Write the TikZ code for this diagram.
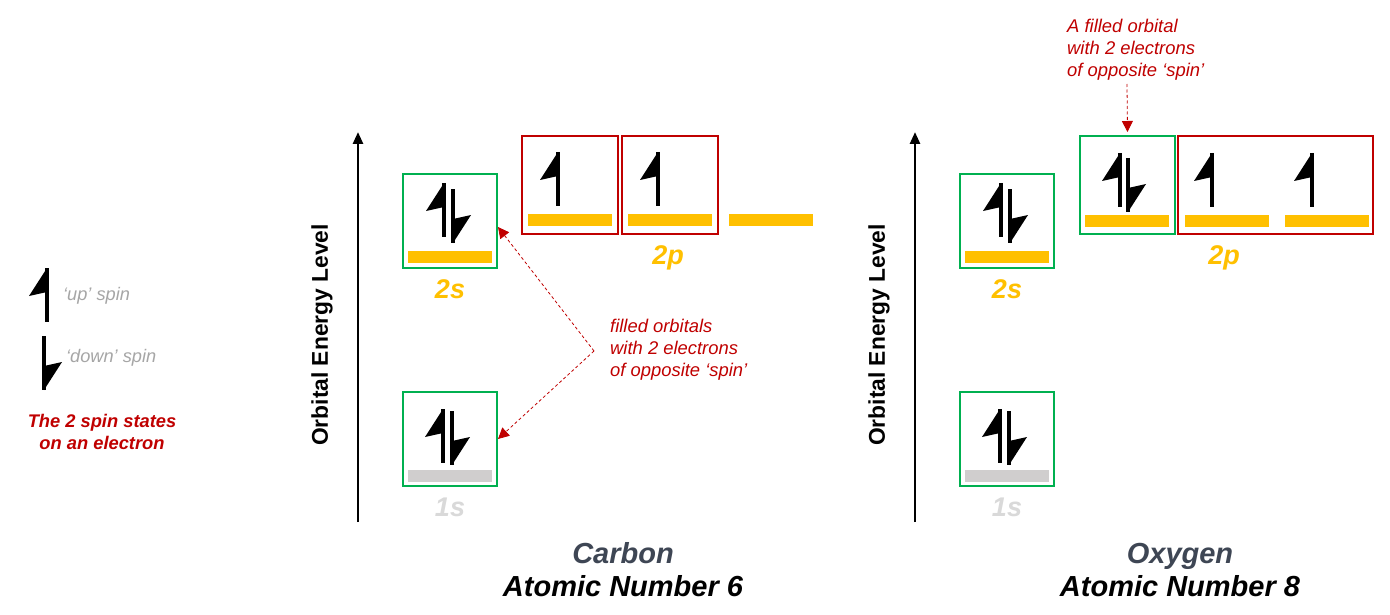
\documentclass[tikz,border=0pt]{standalone}
\usepackage{fontspec}
\setmainfont{Liberation Sans}
\usetikzlibrary{arrows.meta}
\definecolor{oyel}{HTML}{FFC000}
\definecolor{ogrn}{HTML}{00B050}
\definecolor{ored}{HTML}{C00000}
\definecolor{obar}{HTML}{D0CECE}
\definecolor{olab}{HTML}{D9D9D9}
\definecolor{ogtx}{HTML}{A6A6A6}
\definecolor{oslate}{HTML}{3E4654}
\tikzset{
  gbox/.style={draw=ogrn,line width=2pt,minimum width=94pt,minimum height=94pt,inner sep=0pt},
  rbox/.style={draw=ored,line width=2pt,minimum height=98pt,inner sep=0pt},
  ybar/.style={fill=oyel,minimum width=84pt,minimum height=12pt,inner sep=0pt},
  sbar/.style={fill=obar,minimum width=84pt,minimum height=12pt,inner sep=0pt},
  lvl/.style={font=\fontsize{27}{30}\selectfont\bfseries\itshape,text=oyel,anchor=base,inner sep=0pt},
  lvlg/.style={lvl,text=olab},
  axis/.style={line width=2.6pt,-{Triangle[length=12pt,width=10pt]}},
  axlbl/.style={font=\fontsize{22.8}{26}\selectfont\bfseries,rotate=90,inner sep=0pt},
  note/.style={font=\fontsize{18.4}{22}\selectfont\itshape,text=ored,align=left,inner sep=0pt,anchor=west},
  ptr/.style={draw=ored,dash pattern=on 3pt off 2.5pt,line width=0.8pt,-{Triangle[length=11pt,width=11pt]}},
  atom/.style={font=\fontsize{29}{32}\selectfont\bfseries\itshape,anchor=base,inner sep=0pt},
  upspin/.pic={\fill (0,0) -- (-18,28) -- (0,24) -- cycle; \draw[line width=3.2pt] (0,0) -- (0,54);},
  dnspin/.pic={\fill (0,54) -- (18,26) -- (0,30) -- cycle; \draw[line width=3.2pt] (0,0) -- (0,54);}
}
\begin{document}
\begin{tikzpicture}[x=1pt,y=-1pt]
\useasboundingbox[fill=white] (0,0) rectangle (1390,615);

% ---------- legend ----------
\pic at (47,268) {upspin};
\pic at (44,336) {dnspin};
\node[anchor=west,inner sep=0pt,font=\fontsize{18.2}{22}\selectfont\itshape,text=ogtx] (lup) at (63,296) {‘up’ spin};
\node[anchor=west,inner sep=0pt,font=\fontsize{18.2}{22}\selectfont\itshape,text=ogtx] (ldn) at (66,358) {‘down’ spin};
\node[inner sep=0pt,align=center,font=\fontsize{18.3}{22}\selectfont\bfseries\itshape,text=ored] (lspin) at (102,432) {The 2 spin states\\on an electron};

% ---------- Carbon ----------
\coordinate (cbot) at (358,522);
\coordinate (ctop) at (358,132);
\draw[axis] (cbot) -- (ctop);
\node[axlbl] (cax) at (322,335) {Orbital Energy Level};

\node[gbox] (c2s) at (450,221) {};
\node[ybar] (c2sbar) at (450,257) {};
\pic at (444,183) {upspin};
\pic at (453,189) {dnspin};
\node[lvl] (c2slbl) at (450,298) {2s};

\node[gbox] (c1s) at (450,439) {};
\node[sbar] (c1sbar) at (450,476) {};
\pic at (443,409) {upspin};
\pic at (452,411) {dnspin};
\node[lvlg] (c1slbl) at (450,516) {1s};

\node[rbox,minimum width=96pt] (c2p1) at (570,185) {};
\node[rbox,minimum width=96pt] (c2p2) at (670,185) {};
\node[ybar] (c2pbar1) at (570,220) {};
\node[ybar] (c2pbar2) at (670,220) {};
\node[ybar] (c2pbar3) at (771,220) {};
\pic at (558,152) {upspin};
\pic at (658,152) {upspin};
\node[lvl] (c2plbl) at (668,264) {2p};

\coordinate (capex) at (594,351);
\draw[ptr] (capex) -- ([yshift=-6pt]c2s.east);
\draw[ptr] (capex) -- (c1s.east);
\node[note] (cnote) at (610,350) {filled orbitals\\with 2 electrons\\of opposite ‘spin’};

\node[atom,text=oslate] (cname) at (623,563) {Carbon};
\node[atom] (cnum) at (623,596) {Atomic Number 6};

% ---------- Oxygen ----------
\coordinate (obot) at (915,522);
\coordinate (otop) at (915,132);
\draw[axis] (obot) -- (otop);
\node[axlbl] (oax) at (879,335) {Orbital Energy Level};

\node[gbox] (o2s) at (1007,221) {};
\node[ybar] (o2sbar) at (1007,257) {};
\pic at (1001,183) {upspin};
\pic at (1010,189) {dnspin};
\node[lvl] (o2slbl) at (1007,298) {2s};

\node[gbox] (o1s) at (1007,439) {};
\node[sbar] (o1sbar) at (1007,476) {};
\pic at (1000,409) {upspin};
\pic at (1009,411) {dnspin};
\node[lvlg] (o1slbl) at (1007,516) {1s};

\node[gbox,minimum width=95pt,minimum height=98pt] (o2p1) at (1127.5,185) {};
\node[rbox,minimum width=195pt] (o2p2) at (1275.5,185) {};
\node[ybar] (o2pbar1) at (1127,221) {};
\node[ybar] (o2pbar2) at (1227,221) {};
\node[ybar] (o2pbar3) at (1327,221) {};
\pic at (1120,153) {upspin};
\pic at (1128,158) {dnspin};
\pic at (1212,153) {upspin};
\pic at (1312,153) {upspin};
\node[lvl] (o2plbl) at (1224,264) {2p};

\coordinate (oann) at (1127,84);
\draw[ptr] (oann) -- ([yshift=3pt]o2p1.north);
\node[note] (onote) at (1067,50) {A filled orbital\\with 2 electrons\\of opposite ‘spin’};

\node[atom,text=oslate] (oname) at (1180,563) {Oxygen};
\node[atom] (onum) at (1180,596) {Atomic Number 8};
\end{tikzpicture}
\end{document}
